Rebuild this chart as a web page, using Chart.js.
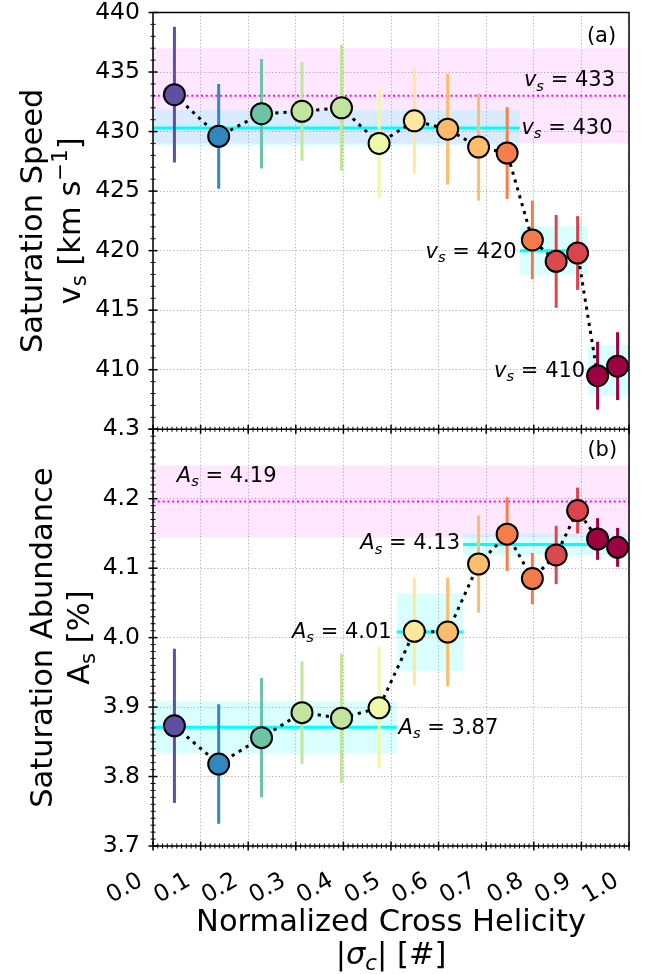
<!DOCTYPE html>
<html>
<head>
<meta charset="utf-8">
<script src="https://cdn.jsdelivr.net/npm/chart.js@4.4.1/dist/chart.umd.min.js"></script>
<style>
    html, body { margin: 0; padding: 0; background: #fff; }
    canvas { display: block; }
</style>
</head>
<body>
<canvas id="grafico" width="651" height="974"></canvas>
<script>
// Bins in normalized cross helicity |sigma_c|
const crossHelicity = [0.045, 0.138, 0.228, 0.313, 0.396, 0.475, 0.549, 0.619, 0.684, 0.744, 0.797, 0.847, 0.892, 0.934, 0.976];

// Panel (a): saturation speed [km/s]
const speed    = [433.1, 429.6, 431.5, 431.7, 432.0, 429.0, 430.9, 430.2, 428.7, 428.2, 420.9, 419.1, 419.8, 409.5, 410.3];
const speedErr = [5.7, 4.4, 4.6, 4.15, 5.3, 4.6, 4.4, 4.65, 4.5, 3.85, 3.3, 3.9, 3.1, 2.85, 2.85];

// Panel (b): saturation abundance [%]
const abundance    = [3.873, 3.818, 3.856, 3.892, 3.884, 3.899, 4.009, 4.008, 4.106, 4.149, 4.085, 4.119, 4.183, 4.142, 4.130];
const abundanceErr = [0.111, 0.086, 0.086, 0.074, 0.093, 0.088, 0.077, 0.078, 0.070, 0.053, 0.037, 0.042, 0.033, 0.030, 0.028];

const pointColors = ["#5e4fa2", "#3288bd", "#6cc3a5", "#c1e59c", "#c1e59c", "#eef8a6", "#fee89b", "#fdbb6c",
                     "#fdbd6e", "#f67e4b", "#f57c4a", "#da4a4c", "#d9444e", "#9e0142", "#9e0142"];

// Overall level (magenta) and piecewise levels (cyan)
const speedAll = 433.0, speedAllErr = 4.0;
const speedLevel    = [430.3, 420.0, 409.95];
const speedLevelErr = [1.5, 2.05, 2.15];
const speedFrom     = [0, 0.7705, 0.9135];
const speedTo       = [0.7705, 0.9135, 1.0];

const abundanceAll = 4.196, abundanceAllErr = 0.052;
const abundanceLevel    = [3.871, 4.008, 4.134];
const abundanceLevelErr = [0.038, 0.056, 0.0155];
const abundanceFrom     = [0, 0.512, 0.6515];
const abundanceTo       = [0.512, 0.6515, 1.0];

// Annotations
const speedLabel      = ["433", "430", "420", "410"];
const speedLabelX     = [0.9706, 0.774, 0.764, 0.908];
const speedLabelY     = [433.8, 429.8, 419.4, 409.4];
const speedLabelAlign = ["right", "left", "right", "right"];

const abundanceLabel      = ["4.19", "4.13", "4.01", "3.87"];
const abundanceLabelX     = [0.05, 0.645, 0.5015, 0.516];
const abundanceLabelY     = [4.224, 4.127, 4.0, 3.861];
const abundanceLabelAlign = ["left", "right", "right", "left"];

const FONT = '"DejaVu Sans"';

// draw text made of pieces: {t, i: italic, sub, sup}
function drawRich(ctx, parts, x, y, size, align) {
    const fontOf = p => (p.i ? "italic " : "") + ((p.sub || p.sup) ? size * 0.7 : size) + "px " + FONT;
    let total = 0;
    const widths = parts.map(p => {
        ctx.font = fontOf(p);
        const w = ctx.measureText(p.t).width;
        total += w;
        return w;
    });
    let cx = align === "right" ? x - total : align === "center" ? x - total / 2 : x;
    ctx.textAlign = "left";
    ctx.textBaseline = "alphabetic";
    parts.forEach((p, k) => {
        ctx.font = fontOf(p);
        const dy = p.sub ? size * 0.2 : p.sup ? -size * 0.42 : 0;
        ctx.fillText(p.t, cx, y + dy);
        cx += widths[k];
    });
}

const panelPlugin = {
    id: "panels",
    beforeDatasetsDraw(chart) {
        const { ctx, scales: { x, yV, yA } } = chart;
        ctx.save();

        const band = (ys, x0, x1, lo, hi, color) => {
            ctx.fillStyle = color;
            const px0 = x.getPixelForValue(x0), px1 = x.getPixelForValue(x1);
            const py0 = ys.getPixelForValue(hi), py1 = ys.getPixelForValue(lo);
            ctx.fillRect(px0, py0, px1 - px0, py1 - py0);
        };
        const hline = (ys, x0, x1, v, color, width, dash) => {
            ctx.strokeStyle = color;
            ctx.lineWidth = width;
            ctx.setLineDash(dash);
            ctx.beginPath();
            ctx.moveTo(x.getPixelForValue(x0), ys.getPixelForValue(v));
            ctx.lineTo(x.getPixelForValue(x1), ys.getPixelForValue(v));
            ctx.stroke();
            ctx.setLineDash([]);
        };

        // overall level
        band(yV, 0, 1, speedAll - speedAllErr, speedAll + speedAllErr, "rgba(255,0,255,0.09)");
        band(yA, 0, 1, abundanceAll - abundanceAllErr, abundanceAll + abundanceAllErr, "rgba(255,0,255,0.09)");
        // piecewise levels
        speedLevel.forEach((v, i) => band(yV, speedFrom[i], speedTo[i], v - speedLevelErr[i], v + speedLevelErr[i], "rgba(0,255,255,0.15)"));
        abundanceLevel.forEach((v, i) => band(yA, abundanceFrom[i], abundanceTo[i], v - abundanceLevelErr[i], v + abundanceLevelErr[i], "rgba(0,255,255,0.15)"));

        hline(yV, 0, 1, speedAll, "#ff00ff", 2, [2, 2.8]);
        hline(yA, 0, 1, abundanceAll, "#ff00ff", 2, [2, 2.8]);
        speedLevel.forEach((v, i) => hline(yV, speedFrom[i], speedTo[i], v, "#00ffff", 3, []));
        abundanceLevel.forEach((v, i) => hline(yA, abundanceFrom[i], abundanceTo[i], v, "#00ffff", 3, []));

        // error bars
        ctx.lineWidth = 3;
        const errBars = (ys, vals, errs) => {
            vals.forEach((v, i) => {
                const px = x.getPixelForValue(crossHelicity[i]);
                ctx.strokeStyle = pointColors[i];
                ctx.beginPath();
                ctx.moveTo(px, ys.getPixelForValue(v - errs[i]));
                ctx.lineTo(px, ys.getPixelForValue(v + errs[i]));
                ctx.stroke();
            });
        };
        errBars(yV, speed, speedErr);
        errBars(yA, abundance, abundanceErr);
        ctx.restore();
    },
    afterDatasetsDraw(chart) {
        const { ctx, scales: { x, yV, yA } } = chart;
        ctx.save();
        ctx.fillStyle = "#000";
        speedLabel.forEach((t, i) => {
            drawRich(ctx, [{ t: "v", i: 1 }, { t: "s", i: 1, sub: 1 }, { t: " = " + t }],
                x.getPixelForValue(speedLabelX[i]), yV.getPixelForValue(speedLabelY[i]), 21, speedLabelAlign[i]);
        });
        abundanceLabel.forEach((t, i) => {
            drawRich(ctx, [{ t: "A", i: 1 }, { t: "s", i: 1, sub: 1 }, { t: " = " + t }],
                x.getPixelForValue(abundanceLabelX[i]), yA.getPixelForValue(abundanceLabelY[i]), 21, abundanceLabelAlign[i]);
        });
        drawRich(ctx, [{ t: "(a)" }], x.getPixelForValue(0.973), yV.getPixelForValue(437.5), 21, "right");
        drawRich(ctx, [{ t: "(b)" }], x.getPixelForValue(0.975), yA.getPixelForValue(4.262), 21, "right");
        ctx.restore();
    },
    afterDraw(chart) {
        const { ctx, chartArea: area, scales: { x, yV, yA } } = chart;
        ctx.save();
        ctx.strokeStyle = "#000";

        // ticks, in and out
        const tick = (px, py, horiz, half, w) => {
            ctx.lineWidth = w;
            ctx.beginPath();
            if (horiz) { ctx.moveTo(px - half, py); ctx.lineTo(px + half, py); }
            else { ctx.moveTo(px, py - half); ctx.lineTo(px, py + half); }
            ctx.stroke();
        };
        [yV.bottom, yA.bottom].forEach(py => {
            for (let k = 0; k <= 100; k++) {
                const px = x.getPixelForValue(k / 100);
                if (k % 10 === 0) tick(px, py, false, 4.5, 1.5); else tick(px, py, false, 2.5, 1);
            }
        });
        for (let k = 405; k <= 440; k++) {
            const py = yV.getPixelForValue(k);
            if (k % 5 === 0) tick(area.left, py, true, 4.5, 1.5); else tick(area.left, py, true, 2.5, 1);
        }
        for (let k = 370; k <= 430; k++) {
            const py = yA.getPixelForValue(k / 100);
            if (k % 10 === 0) tick(area.left, py, true, 4.5, 1.5); else tick(area.left, py, true, 2.5, 1);
        }

        // frame
        ctx.lineWidth = 1.5;
        ctx.strokeRect(area.left, area.top, area.right - area.left, area.bottom - area.top);
        ctx.beginPath();
        ctx.moveTo(area.left, yV.bottom);
        ctx.lineTo(area.right, yV.bottom);
        ctx.stroke();

        // axis titles
        ctx.fillStyle = "#000";
        const vTitle = (lines, bx, cy) => {
            lines.forEach((parts, k) => {
                ctx.save();
                ctx.translate(bx[k], cy);
                ctx.rotate(-Math.PI / 2);
                drawRich(ctx, parts, 0, 0, 30.5, "center");
                ctx.restore();
            });
        };
        vTitle([[{ t: "Saturation Speed" }],
                [{ t: "v" }, { t: "s", sub: 1 }, { t: " [km s" }, { t: "\u22121", sup: 1 }, { t: "]" }]],
               [42, 80], (yV.top + yV.bottom) / 2);
        vTitle([[{ t: "Saturation Abundance" }],
                [{ t: "A" }, { t: "s", sub: 1 }, { t: " [%]" }]],
               [52, 89], (yA.top + yA.bottom) / 2);
        const cx = (area.left + area.right) / 2;
        drawRich(ctx, [{ t: "Normalized Cross Helicity" }], cx, 931, 30.5, "center");
        drawRich(ctx, [{ t: "|" }, { t: "\u03c3", i: 1 }, { t: "c", i: 1, sub: 1 }, { t: "| [#]" }], cx, 964, 30.5, "center");
        ctx.restore();
    }
};

const gridOpts = { color: "#b0b0b0", lineWidth: 1, drawTicks: false };
const borderOpts = { display: false, dash: [1.2, 2.2] };
const tickFont = { family: "DejaVu Sans", size: 23.5 };
const noPad = s => { s.paddingTop = 0; s.paddingBottom = 0; s.width = 153; };

new Chart(document.getElementById("grafico"), {
    type: "line",
    data: {
        datasets: [
            {
                data: crossHelicity.map((v, i) => ({ x: v, y: abundance[i] })),
                yAxisID: "yA"
            },
            {
                data: crossHelicity.map((v, i) => ({ x: v, y: speed[i] })),
                yAxisID: "yV"
            }
        ].map(ds => Object.assign(ds, {
            borderColor: "#000",
            borderWidth: 3,
            borderDash: [3.2, 5],
            tension: 0,
            pointRadius: 10.5,
            pointBorderWidth: 2,
            pointBorderColor: "#000",
            pointBackgroundColor: pointColors
        }))
    },
    options: {
        responsive: false,
        animation: false,
        devicePixelRatio: 1,
        layout: { padding: { top: 11, right: 22, left: 0, bottom: 0 } },
        plugins: { legend: { display: false }, tooltip: { enabled: false } },
        scales: {
            x: {
                type: "linear", min: 0, max: 1,
                grid: gridOpts, border: borderOpts,
                ticks: {
                    stepSize: 0.1, autoSkip: false, minRotation: 30, maxRotation: 30,
                    padding: 21, labelOffset: -12, color: "#000", font: tickFont,
                    callback: v => v.toFixed(1)
                },
                afterFit: s => { s.height = 128; s.paddingLeft = 0; s.paddingRight = 0; }
            },
            yA: {
                type: "linear", position: "left", stack: "panels", stackWeight: 1,
                min: 3.7, max: 4.3,
                grid: gridOpts, border: borderOpts,
                ticks: { stepSize: 0.1, padding: 13, color: "#000", font: tickFont, callback: v => v.toFixed(1) },
                afterFit: noPad
            },
            yV: {
                type: "linear", position: "left", stack: "panels", stackWeight: 1,
                min: 405, max: 440,
                grid: gridOpts, border: borderOpts,
                ticks: { stepSize: 5, padding: 13, color: "#000", font: tickFont, callback: v => v === 405 ? "" : v },
                afterFit: noPad
            }
        }
    },
    plugins: [panelPlugin]
});
</script>
</body>
</html>
